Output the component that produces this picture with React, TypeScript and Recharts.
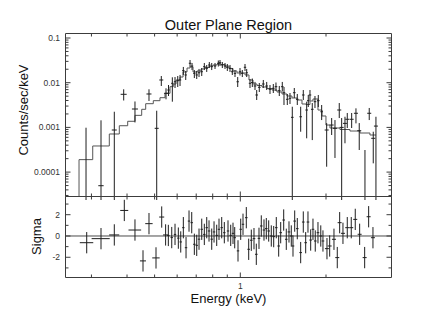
import React from 'react';
import { ComposedChart, Scatter, Line, XAxis, YAxis, ErrorBar, ReferenceLine } from 'recharts';

const FONT = '"Liberation Sans", Arial, Helvetica, sans-serif';
const AXIS = '#3c3c3c';
const INK = '#1e1e1e';

// ---------- spectrum (top panel) ----------
const specEnergy = [0.2871, 0.3241, 0.3609, 0.3894, 0.4266, 0.4778, 0.5086, 0.5278, 0.5483, 0.5596, 0.5771, 0.5898, 0.6029, 0.6142, 0.6308, 0.6431, 0.6659, 0.6768, 0.6895, 0.7029, 0.7161, 0.732, 0.7475, 0.7622, 0.7783, 0.7936, 0.8151, 0.8371, 0.8486, 0.8646, 0.8837, 0.9003, 0.9201, 0.9373, 0.9581, 0.9792, 0.9976, 1.0163, 1.0388, 1.0531, 1.0816, 1.1019, 1.1263, 1.1418, 1.166, 1.2044, 1.2379, 1.2714, 1.3059, 1.3345, 1.3706, 1.4043, 1.4238, 1.4624, 1.4946, 1.5226, 1.5475, 1.5855, 1.6296, 1.6643, 1.7105, 1.7329, 1.7568, 1.7898, 1.8294, 1.8789, 1.9311, 2.0108, 2.0937, 2.1505, 2.2263, 2.2701, 2.3316, 2.3753, 2.4612, 2.5482, 2.617, 2.7408, 2.8374, 2.931, 2.9954];
const specHalfWidth = [0.007, 0.007, 0.0073, 0.0095, 0.0104, 0.0097, 0.0083, 0.0086, 0.0089, 0.0055, 0.0056, 0.0057, 0.0059, 0.006, 0.0061, 0.0063, 0.0065, 0.0066, 0.0067, 0.0068, 0.007, 0.0071, 0.0073, 0.0074, 0.0076, 0.0077, 0.0079, 0.0082, 0.0083, 0.0084, 0.0086, 0.0088, 0.009, 0.0091, 0.0093, 0.0095, 0.0097, 0.0099, 0.0101, 0.0103, 0.0105, 0.0107, 0.012, 0.0121, 0.0124, 0.0128, 0.0131, 0.0135, 0.0138, 0.0141, 0.0145, 0.0149, 0.0151, 0.0155, 0.0158, 0.0161, 0.0164, 0.0168, 0.0173, 0.0176, 0.0181, 0.0184, 0.0186, 0.019, 0.0194, 0.0199, 0.0205, 0.0327, 0.034, 0.0349, 0.0362, 0.0369, 0.0379, 0.0386, 0.04, 0.0414, 0.0425, 0.0445, 0.0461, 0.0476, 0.0486];
const specRate = [2e-5, 4.96e-5, 0.000874, 0.0055, 0.00258, 0.00559, 0.000954, 0.0115, 0.00579, 0.00686, 0.00969, 0.0105, 0.0111, 0.0115, 0.0186, 0.0149, 0.0272, 0.0236, 0.0162, 0.0149, 0.0167, 0.0176, 0.0228, 0.021, 0.0249, 0.0228, 0.0236, 0.0272, 0.028, 0.0249, 0.0236, 0.0221, 0.021, 0.0176, 0.0162, 0.0105, 0.0176, 0.0162, 0.0221, 0.0167, 0.00969, 0.0101, 0.00844, 0.00531, 0.00789, 0.00935, 0.00844, 0.00712, 0.00749, 0.00814, 0.00662, 0.00814, 0.00597, 0.00425, 0.00448, 0.00168, 0.00597, 0.00425, 0.00173, 0.00531, 0.00245, 0.00396, 0.00531, 0.00254, 0.00376, 0.00396, 0.00224, 0.000874, 0.00113, 0.000954, 0.00245, 0.001, 0.00123, 0.00152, 0.00152, 0.00207, 0.000843, 2e-5, 0.00207, 0.00057, 0.00107];
const specRateLow = [1e-6, 1e-6, 1e-6, 0.004, 0.00129, 0.0039, 1e-6, 0.00844, 0.00425, 0.00504, 0.00376, 0.00761, 0.00801, 0.00844, 0.0149, 0.0115, 0.0225, 0.0192, 0.0127, 0.0121, 0.0134, 0.0141, 0.0192, 0.0174, 0.0213, 0.0192, 0.0203, 0.023, 0.0236, 0.0213, 0.0203, 0.0183, 0.0174, 0.0149, 0.0134, 0.00801, 0.0145, 0.0134, 0.0183, 0.0134, 0.00761, 0.00801, 0.00686, 0.0041, 0.00619, 0.00761, 0.00686, 0.00559, 0.00588, 0.00652, 0.00504, 0.00635, 0.00317, 0.00317, 0.00334, 1e-6, 0.00455, 0.00317, 0.0008, 0.0041, 0.00057, 0.00286, 0.004, 0.00052, 0.00272, 0.00286, 0.00146, 0.000132, 0.000676, 0.000207, 0.00162, 1e-6, 0.000441, 0.000969, 0.000969, 0.00123, 0.000312, 1e-6, 0.00146, 0.000157, 1e-6];
const specRateHigh = [0.000984, 0.00144, 0.00224, 0.00712, 0.0038, 0.00712, 0.00236, 0.0141, 0.00749, 0.00888, 0.0132, 0.0134, 0.0141, 0.0149, 0.0225, 0.0183, 0.0322, 0.0276, 0.0192, 0.0183, 0.0203, 0.0213, 0.0276, 0.0249, 0.029, 0.0276, 0.0276, 0.0314, 0.0322, 0.029, 0.0276, 0.0262, 0.0249, 0.0213, 0.0192, 0.0134, 0.0213, 0.0192, 0.0262, 0.0203, 0.0121, 0.0124, 0.0104, 0.00686, 0.00984, 0.0115, 0.0104, 0.00888, 0.00935, 0.0101, 0.00844, 0.0104, 0.00801, 0.00559, 0.00588, 0.0029, 0.00761, 0.00559, 0.0029, 0.00686, 0.00376, 0.00531, 0.00686, 0.00351, 0.00504, 0.00531, 0.00317, 0.00125, 0.00162, 0.00146, 0.00351, 0.00162, 0.00173, 0.0021, 0.0021, 0.00267, 0.00125, 0.000312, 0.00272, 0.0008, 0.00173];

// folded model: bin edges and rate in each bin
const modelEdges = [0.2713, 0.3031, 0.3466, 0.3758, 0.4022, 0.4266, 0.4504, 0.4652, 0.4947, 0.5222, 0.5438, 0.5663, 0.5816, 0.5946, 0.6142, 0.6293, 0.6499, 0.6659, 0.6823, 0.7047, 0.7278, 0.7518, 0.7765, 0.802, 0.8283, 0.8555, 0.8837, 0.9126, 0.9427, 0.9737, 1.0057, 1.0388, 1.0728, 1.1082, 1.1446, 1.1918, 1.241, 1.2922, 1.3455, 1.401, 1.4588, 1.519, 1.5816, 1.6469, 1.7009, 1.7568, 1.8, 1.8743, 1.936, 1.9994, 2.0652, 2.2391, 2.4276, 2.6321, 2.8537, 2.9954];
const modelRate = [0.00019, 0.000384, 0.000712, 0.00109, 0.00137, 0.00186, 0.00254, 0.00339, 0.00396, 0.00462, 0.00579, 0.00814, 0.00935, 0.0115, 0.0134, 0.0174, 0.0213, 0.0225, 0.0174, 0.0183, 0.0203, 0.0219, 0.0236, 0.0249, 0.0262, 0.0255, 0.0236, 0.0208, 0.0183, 0.0165, 0.0165, 0.0149, 0.0115, 0.00935, 0.00866, 0.00801, 0.00742, 0.00686, 0.00619, 0.00559, 0.00504, 0.00455, 0.0041, 0.00334, 0.00325, 0.0039, 0.00432, 0.00245, 0.0018, 0.00113, 0.000969, 0.000897, 0.00083, 0.000749, 0.000676];

// ---------- residuals (bottom panel) ----------
const resEnergy = [0.2887, 0.3241, 0.3609, 0.3913, 0.4266, 0.4552, 0.4778, 0.5057, 0.5296, 0.5466, 0.5587, 0.5743, 0.5898, 0.6058, 0.6177, 0.6308, 0.6447, 0.6605, 0.6751, 0.6895, 0.7029, 0.7161, 0.732, 0.7475, 0.7622, 0.7765, 0.7936, 0.8086, 0.8263, 0.8418, 0.8604, 0.8787, 0.9053, 0.9253, 0.9427, 0.9558, 0.9816, 1.0033, 1.0221, 1.0497, 1.0702, 1.093, 1.1171, 1.1381, 1.1631, 1.185, 1.2112, 1.234, 1.2581, 1.2848, 1.3101, 1.3379, 1.364, 1.3863, 1.4204, 1.4506, 1.4825, 1.5103, 1.5313, 1.5526, 1.5855, 1.6296, 1.6643, 1.6968, 1.7287, 1.7668, 1.8, 1.8336, 1.8743, 1.9172, 1.9513, 2.0157, 2.0603, 2.1331, 2.1909, 2.2336, 2.2941, 2.3753, 2.4532, 2.534, 2.6255, 2.7342, 2.8237, 2.9238];
const resHalfWidth = [0.0157, 0.0237, 0.0147, 0.0127, 0.0218, 0.0111, 0.0143, 0.0152, 0.0108, 0.0111, 0.0054, 0.0056, 0.0057, 0.0059, 0.006, 0.0061, 0.0063, 0.0064, 0.0066, 0.0067, 0.0068, 0.007, 0.0071, 0.0073, 0.0074, 0.0076, 0.0077, 0.0079, 0.008, 0.0082, 0.0084, 0.0086, 0.0088, 0.009, 0.0092, 0.0093, 0.0096, 0.0098, 0.01, 0.0111, 0.0113, 0.0115, 0.0118, 0.012, 0.0123, 0.0125, 0.0128, 0.013, 0.0133, 0.0136, 0.0138, 0.0141, 0.0144, 0.0146, 0.015, 0.0153, 0.0157, 0.0159, 0.0162, 0.0164, 0.0167, 0.0172, 0.0176, 0.0179, 0.0183, 0.0187, 0.019, 0.0194, 0.0198, 0.0202, 0.0206, 0.0327, 0.0335, 0.0346, 0.0356, 0.0363, 0.0373, 0.0386, 0.0398, 0.0412, 0.0426, 0.0444, 0.0459, 0.0475];
const resSigma = [-0.63, -0.25, 0.1, 2.4, 0.56, -2.34, 1.16, -2.06, 1.78, 0.1, 0.05, -0.15, 0.15, -0.2, -0.56, 0.78, -1.1, 1.4, 1.25, -0.78, -0.88, -0.3, 0.63, 0.15, 0.78, 0.47, -0.3, 0.38, 0.06, 0.63, 0.78, 0.31, 0.47, 0.06, 0.25, -0.16, -1.4, 0.63, 1.1, 1.72, -1.25, -0.4, -0.25, -1.72, -0.22, 0.94, 0.56, 0.69, 0.47, 0, -0.06, 0.78, -0.94, 0.31, 1.5, -0.31, 0.38, 0, -0.94, 1.4, 0.69, -1.56, 1.31, -0.63, 1.31, -0.38, 0.63, -0.47, 0.31, 0, -0.47, -1.19, -0.94, -0.31, -2.03, 1.25, 0.25, 0.78, 0.78, 1.56, 0.16, -2.03, 1.81, -0.16];
const resSigmaErr = 1;

// ---------- axes ----------
const energyDomain = [0.2432, 3.397];
const energyTicks = [0.3, 0.4, 0.5, 0.6, 0.7, 0.8, 0.9, 1, 2];
const energyMajorTicks = [1];
const energyTickLabels = ['1'];
const rateDomain = [2.845e-5, 0.1261];
const rateMajorTicks = [0.0001, 0.001, 0.01, 0.1];
const rateTickLabels = ['0.0001', '0.001', '0.01', '0.1'];
const rateMinorTicks = [3e-5, 4e-5, 5e-5, 6e-5, 7e-5, 8e-5, 9e-5, 2e-4, 3e-4, 4e-4, 5e-4, 6e-4, 7e-4, 8e-4, 9e-4, 2e-3, 3e-3, 4e-3, 5e-3, 6e-3, 7e-3, 8e-3, 9e-3, 0.02, 0.03, 0.04, 0.05, 0.06, 0.07, 0.08, 0.09];
const sigmaDomain = [-3.9, 3.71];
const sigmaMajorTicks = [-2, 0, 2];
const sigmaTickLabels = ['-2', '0', '2'];
const sigmaMinorTicks = [-3, -1, 1, 3];

const specData = specEnergy.map((x, i) => ({
  x,
  y: specRate[i],
  xe: [specHalfWidth[i], specHalfWidth[i]],
  ye: [specRate[i] - specRateLow[i], specRateHigh[i] - specRate[i]],
}));

const modelData = [
  { x: modelEdges[0], y: 1e-7 },
  ...modelRate.map((y, i) => ({ x: modelEdges[i], y })),
  { x: modelEdges[modelEdges.length - 1], y: modelRate[modelRate.length - 1] },
];

const resData = resEnergy.map((x, i) => ({
  x,
  y: resSigma[i],
  xe: [resHalfWidth[i], resHalfWidth[i]],
  ye: [resSigmaErr, resSigmaErr],
}));

type Side = 'bottom' | 'top' | 'left' | 'right';

function makeTick(side: Side, majors: number[], labels: string[] | null) {
  return (props: any) => {
    const { x, y, payload } = props;
    const v = payload.value;
    const mi = majors.indexOf(v);
    const len = mi >= 0 ? 5 : 3;
    let line;
    if (side === 'bottom') line = <line x1={x} x2={x} y1={y} y2={y - len} stroke={AXIS} strokeWidth={1} />;
    else if (side === 'top') line = <line x1={x} x2={x} y1={y} y2={y + len} stroke={AXIS} strokeWidth={1} />;
    else if (side === 'left') line = <line x1={x} x2={x + len} y1={y} y2={y} stroke={AXIS} strokeWidth={1} />;
    else line = <line x1={x} x2={x - len} y1={y} y2={y} stroke={AXIS} strokeWidth={1} />;
    let text = null;
    if (labels && mi >= 0) {
      if (side === 'bottom') {
        text = (
          <text x={x} y={y + 11.2} textAnchor="middle" fontSize={8.5} fill="#333" fontFamily={FONT}>
            {labels[mi]}
          </text>
        );
      } else if (side === 'left') {
        text = (
          <text x={x - 5.5} y={y + 3} textAnchor="end" fontSize={8.5} fill="#333" fontFamily={FONT}>
            {labels[mi]}
          </text>
        );
      }
    }
    return (
      <g>
        {line}
        {text}
      </g>
    );
  };
}

const noDot = () => <g />;

const commonAxis = {
  tickLine: false,
  tickSize: 0,
  tickMargin: 0,
  interval: 0 as const,
  allowDataOverflow: true,
  axisLine: { stroke: AXIS, strokeWidth: 1 },
};

export default function App() {
  return (
    <div style={{ position: 'absolute', left: 0, top: 0, width: 436, height: 327, background: '#fff', overflow: 'hidden' }}>
      <div style={{ position: 'absolute', left: 0, top: 0 }}>
        <ComposedChart width={436} height={200} margin={{ top: 28.5, right: 34.5, bottom: 1.5, left: 35.5 }}>
          <XAxis
            xAxisId="b"
            orientation="bottom"
            type="number"
            dataKey="x"
            scale="log"
            domain={energyDomain}
            ticks={energyTicks}
            height={2}
            tick={makeTick('bottom', energyMajorTicks, null)}
            {...commonAxis}
          />
          <XAxis
            xAxisId="t"
            orientation="top"
            type="number"
            dataKey="x"
            scale="log"
            domain={energyDomain}
            ticks={energyTicks}
            height={5}
            tick={makeTick('top', energyMajorTicks, null)}
            {...commonAxis}
          />
          <YAxis
            yAxisId="l"
            orientation="left"
            type="number"
            dataKey="y"
            scale="log"
            domain={rateDomain}
            ticks={[...rateMajorTicks, ...rateMinorTicks]}
            width={30}
            tick={makeTick('left', rateMajorTicks, rateTickLabels)}
            {...commonAxis}
          />
          <YAxis
            yAxisId="r"
            orientation="right"
            type="number"
            dataKey="y"
            scale="log"
            domain={rateDomain}
            ticks={[...rateMajorTicks, ...rateMinorTicks]}
            width={10}
            tick={makeTick('right', rateMajorTicks, null)}
            {...commonAxis}
          />
          <Line
            data={modelData}
            xAxisId="b"
            yAxisId="l"
            dataKey="y"
            type="stepAfter"
            stroke="#555"
            strokeWidth={1}
            dot={false}
            activeDot={false}
            isAnimationActive={false}
          />
          <Scatter data={specData} xAxisId="b" yAxisId="l" dataKey="y" shape={noDot} isAnimationActive={false}>
            <ErrorBar dataKey="ye" direction="y" width={0} stroke={INK} strokeWidth={1} />
            <ErrorBar dataKey="xe" direction="x" width={0} stroke={INK} strokeWidth={1} />
          </Scatter>
        </ComposedChart>
      </div>
      <div style={{ position: 'absolute', left: 0, top: 190 }}>
        <ComposedChart width={436} height={137} margin={{ top: 4.5, right: 34.5, bottom: 47.5, left: 35.5 }}>
          <XAxis
            xAxisId="b"
            orientation="bottom"
            type="number"
            dataKey="x"
            scale="log"
            domain={energyDomain}
            ticks={energyTicks}
            height={2}
            tick={makeTick('bottom', energyMajorTicks, energyTickLabels)}
            {...commonAxis}
          />
          <XAxis
            xAxisId="t"
            orientation="top"
            type="number"
            dataKey="x"
            scale="log"
            domain={energyDomain}
            ticks={energyTicks}
            height={2}
            tick={makeTick('top', energyMajorTicks, null)}
            {...commonAxis}
          />
          <YAxis
            yAxisId="l"
            orientation="left"
            type="number"
            dataKey="y"
            domain={sigmaDomain}
            ticks={[...sigmaMajorTicks, ...sigmaMinorTicks]}
            width={30}
            tick={makeTick('left', sigmaMajorTicks, sigmaTickLabels)}
            {...commonAxis}
          />
          <YAxis
            yAxisId="r"
            orientation="right"
            type="number"
            dataKey="y"
            domain={sigmaDomain}
            ticks={[...sigmaMajorTicks, ...sigmaMinorTicks]}
            width={10}
            tick={makeTick('right', sigmaMajorTicks, null)}
            {...commonAxis}
          />
          <ReferenceLine xAxisId="b" yAxisId="l" y={0} stroke="#4a4a4a" strokeWidth={1} />
          <Scatter data={resData} xAxisId="b" yAxisId="l" dataKey="y" shape={noDot} isAnimationActive={false}>
            <ErrorBar dataKey="ye" direction="y" width={0} stroke={INK} strokeWidth={1} />
            <ErrorBar dataKey="xe" direction="x" width={0} stroke={INK} strokeWidth={1} />
          </Scatter>
        </ComposedChart>
      </div>
      <svg width={436} height={327} style={{ position: 'absolute', left: 0, top: 0, pointerEvents: 'none' }}>
        <text x={228.5} y={29.5} textAnchor="middle" fontSize={14.5} fill="#111" fontFamily={FONT}>
          Outer Plane Region
        </text>
        <text transform="translate(28.3,110) rotate(-90)" textAnchor="middle" fontSize={13} fill="#111" fontFamily={FONT}>
          Counts/sec/keV
        </text>
        <text transform="translate(41,236.5) rotate(-90)" textAnchor="middle" fontSize={13} fill="#111" fontFamily={FONT}>
          Sigma
        </text>
        <text x={228.5} y={302.8} textAnchor="middle" fontSize={13} fill="#111" fontFamily={FONT}>
          Energy (keV)
        </text>
      </svg>
    </div>
  );
}
